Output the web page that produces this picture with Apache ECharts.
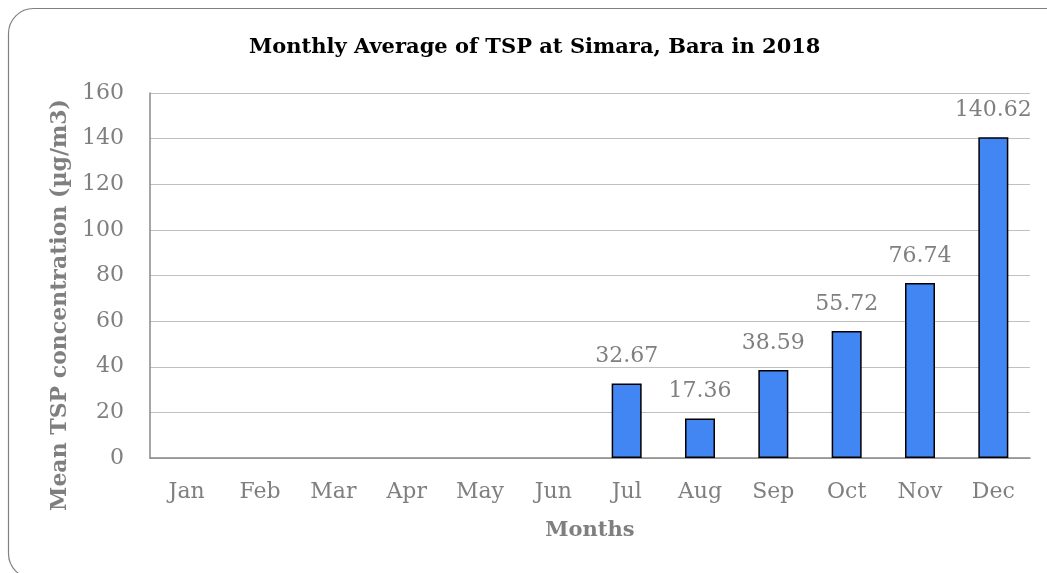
<!DOCTYPE html>
<html><head><meta charset="utf-8">
<script src="https://cdn.jsdelivr.net/npm/echarts@6/dist/echarts.min.js"></script>
<style>html,body{margin:0;padding:0;background:#fff}#c{width:1047px;height:573px}</style>
</head><body><div id="c"></div>
<script>
const months = ['Jan','Feb','Mar','Apr','May','Jun','Jul','Aug','Sep','Oct','Nov','Dec'];
const tsp = [null,null,null,null,null,null,32.67,17.36,38.59,55.72,76.74,140.62];
const yTicks = [0,20,40,60,80,100,120,140,160];
const FONT = 'DejaVu Serif';
const chart = echarts.init(document.getElementById('c'));
chart.setOption({
  animation:false,
  backgroundColor:'#fff',
  graphic:[
    {type:'rect',shape:{x:8.5,y:8.5,width:1090,height:570,r:25},style:{fill:'none',stroke:'#808080',lineWidth:1.2},silent:true},
    {type:'text',x:60,y:305,rotation:Math.PI/2,silent:true,
      style:{text:'Mean TSP concentration (µg/m3)',fontFamily:FONT,fontSize:22,fontWeight:'bold',fill:'#7f7f7f',align:'center',verticalAlign:'middle'}}
  ],
  title:{text:'Monthly Average of TSP at Simara, Bara in 2018',left:244,top:32,
    textStyle:{fontFamily:FONT,fontSize:21,fontWeight:'bold',color:'#000'}},
  grid:{left:150,right:17,top:93,bottom:115},
  xAxis:{type:'category',data:months,
    axisLine:{lineStyle:{color:'#888',width:1.5}},axisTick:{show:false},
    axisLabel:{fontFamily:FONT,fontSize:22,color:'#7f7f7f',margin:23},
    name:'Months',nameLocation:'middle',nameGap:62,
    nameTextStyle:{fontFamily:FONT,fontSize:21,fontWeight:'bold',color:'#7f7f7f'}},
  yAxis:{type:'value',min:yTicks[0],max:yTicks[yTicks.length-1],interval:20,
    axisLine:{show:true,lineStyle:{color:'#888',width:1.5}},
    splitLine:{lineStyle:{color:'#c0c0c0',width:1.2}},
    axisLabel:{fontFamily:FONT,fontSize:22,color:'#7f7f7f',margin:26}},
  series:[{type:'bar',data:tsp,barWidth:30,
    itemStyle:{color:'#4286f4',borderColor:'#000',borderWidth:1.5},
    label:{show:true,position:'top',distance:16,fontFamily:FONT,fontSize:22,color:'#7f7f7f'}}]
});
</script></body></html>
